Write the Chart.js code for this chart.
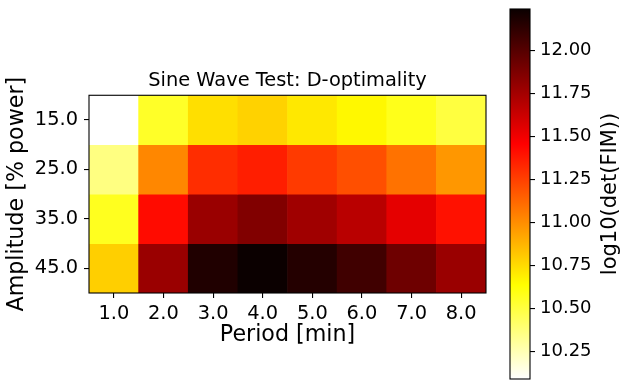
<!DOCTYPE html>
<html>
<head>
<meta charset="utf-8">
<script src="https://cdn.jsdelivr.net/npm/chart.js@4"></script>
<style>
  html, body { margin: 0; padding: 0; background: #fff; }
  #wrap { position: relative; width: 629px; height: 389px; }
  #heat { position: absolute; left: 0; top: 0; }
  #cbar { position: absolute; left: 500px; top: 0; }
</style>
</head>
<body>
<div id="wrap">
  <canvas id="heat" width="575" height="389"></canvas>
  <canvas id="cbar" width="129" height="389"></canvas>
</div>
<script>
// === Daten: log10(det(FIM)) je Amplitude (Zeile) und Periode (Spalte) ===
const periods = ['1.0', '2.0', '3.0', '4.0', '5.0', '6.0', '7.0', '8.0'];
const amplitudes = [15, 25, 35, 45];
const amp15 = [10.09, 10.55, 10.74, 10.78, 10.71, 10.66, 10.58, 10.50];
const amp25 = [10.36, 11.02, 11.31, 11.36, 11.27, 11.20, 11.09, 10.97];
const amp35 = [10.57, 11.42, 11.78, 11.86, 11.76, 11.68, 11.54, 11.40];
const amp45 = [10.79, 11.78, 12.17, 12.24, 12.16, 12.07, 11.92, 11.78];
const rows = [amp15, amp25, amp35, amp45];
const cbTicks = [10.25, 10.5, 10.75, 11.0, 11.25, 11.5, 11.75, 12.0];

const vmin = Math.min(...rows.flat());
const vmax = Math.max(...rows.flat());
const rowStep = amplitudes[1] - amplitudes[0];

Chart.defaults.font.family = "'DejaVu Sans', sans-serif";
Chart.defaults.color = '#000';
Chart.defaults.animation = false;

// matplotlib 'hot' colormap, s in [0,1]
function hot(s) {
  const r = s < 0.365079 ? 0.0416 + (1 - 0.0416) * s / 0.365079 : 1;
  const g = s < 0.365079 ? 0 : (s < 0.746032 ? (s - 0.365079) / (0.746032 - 0.365079) : 1);
  const b = s < 0.746032 ? 0 : (s - 0.746032) / (1 - 0.746032);
  return `rgb(${Math.round(r * 255)},${Math.round(g * 255)},${Math.round(b * 255)})`;
}
// hot_r: kleiner Wert = weiss, grosser Wert = schwarz
function hotR(v) {
  const t = (v - vmin) / (vmax - vmin);
  return hot(1 - t);
}

// Rahmen um die Achsenfläche (wie matplotlib spines)
const frame = {
  id: 'frame',
  afterDraw(chart) {
    const { ctx, chartArea: a } = chart;
    ctx.save();
    ctx.strokeStyle = '#000';
    ctx.lineWidth = 1.1;
    ctx.strokeRect(a.left, a.top, a.right - a.left, a.bottom - a.top);
    ctx.restore();
  }
};

const tickGrid = { drawOnChartArea: false, drawTicks: true, tickLength: 5, color: '#000', lineWidth: 1.1, offset: false };
const noPad = s => { s.paddingTop = 0; s.paddingBottom = 0; s.paddingLeft = 0; s.paddingRight = 0; };

// === HEATMAP: eine schwebende Balkenreihe pro Amplitude ===
new Chart(document.getElementById('heat'), {
  type: 'bar',
  data: {
    labels: periods,
    datasets: rows.map((vals, i) => ({
      label: amplitudes[i] + '',
      data: vals.map(() => [amplitudes[i] - rowStep / 2, amplitudes[i] + rowStep / 2]),
      backgroundColor: vals.map(hotR),
      borderWidth: 0,
      grouped: false,
      barPercentage: 1,
      categoryPercentage: 1
    }))
  },
  options: {
    responsive: false,
    layout: { padding: 0 },
    plugins: {
      legend: { display: false },
      tooltip: { enabled: false },
      title: {
        display: true,
        text: 'Sine Wave Test: D-optimality',
        font: { size: 19.4, weight: 'normal' },
        padding: { top: 69, bottom: 3 }
      }
    },
    scales: {
      x: {
        offset: true,
        grid: tickGrid,
        border: { display: false },
        ticks: { font: { size: 19.4 }, padding: 4, maxRotation: 0 },
        title: { display: true, text: 'Period [min]', font: { size: 22.2 }, padding: { top: 0, bottom: 40 } },
        afterFit: s => { s.height = 96; noPad(s); }
      },
      y: {
        min: amplitudes[0] - rowStep / 2,
        max: amplitudes[amplitudes.length - 1] + rowStep / 2,
        reverse: true,
        grid: tickGrid,
        border: { display: false },
        afterBuildTicks: s => { s.ticks = amplitudes.map(v => ({ value: v })); },
        ticks: { font: { size: 19.4 }, padding: 6, callback: v => Number(v).toFixed(1) },
        title: { display: true, text: 'Amplitude [% power]', font: { size: 22.2 }, padding: { top: 4, bottom: 0 } },
        afterFit: s => { s.width = 89; noPad(s); }
      },
      // leere rechte Achse, damit der Titel über der Achsenfläche zentriert ist
      yr: {
        position: 'right',
        grid: { display: false },
        border: { display: false },
        ticks: { display: false },
        afterFit: s => { s.width = 89; noPad(s); }
      }
    }
  },
  plugins: [frame]
});

// === FARBSKALA ===
const cbLabel = {
  id: 'cbLabel',
  afterDraw(chart) {
    const { ctx, chartArea: a } = chart;
    ctx.save();
    ctx.translate(111, (a.top + a.bottom) / 2);
    ctx.rotate(-Math.PI / 2);
    ctx.font = "21px 'DejaVu Sans'";
    ctx.fillStyle = '#000';
    ctx.textAlign = 'center';
    ctx.textBaseline = 'middle';
    ctx.fillText('log10(det(FIM))', 0, 0);
    ctx.restore();
  }
};

function cbGradient(ctx) {
  const a = ctx.chart.chartArea;
  if (!a) return '#fff';
  const g = ctx.chart.ctx.createLinearGradient(0, a.bottom, 0, a.top);
  [0, 1 - 0.746032, 1 - 0.365079, 1].forEach(t => g.addColorStop(t, hot(1 - t)));
  return g;
}

new Chart(document.getElementById('cbar'), {
  type: 'bar',
  data: {
    labels: [''],
    datasets: [{
      data: [[vmin, vmax]],
      backgroundColor: cbGradient,
      borderWidth: 0,
      barPercentage: 1,
      categoryPercentage: 1
    }]
  },
  options: {
    responsive: false,
    layout: { padding: { left: 10, top: 9, bottom: 10, right: 0 } },
    plugins: { legend: { display: false }, tooltip: { enabled: false } },
    scales: {
      x: { display: false },
      y: {
        position: 'right',
        min: vmin,
        max: vmax,
        grid: tickGrid,
        border: { display: false },
        afterBuildTicks: s => { s.ticks = cbTicks.map(v => ({ value: v })); },
        ticks: { font: { size: 18 }, padding: 5, callback: v => Number(v).toFixed(2) },
        afterFit: s => { s.width = 99; noPad(s); }
      }
    }
  },
  plugins: [frame, cbLabel]
});
</script>
</body>
</html>
